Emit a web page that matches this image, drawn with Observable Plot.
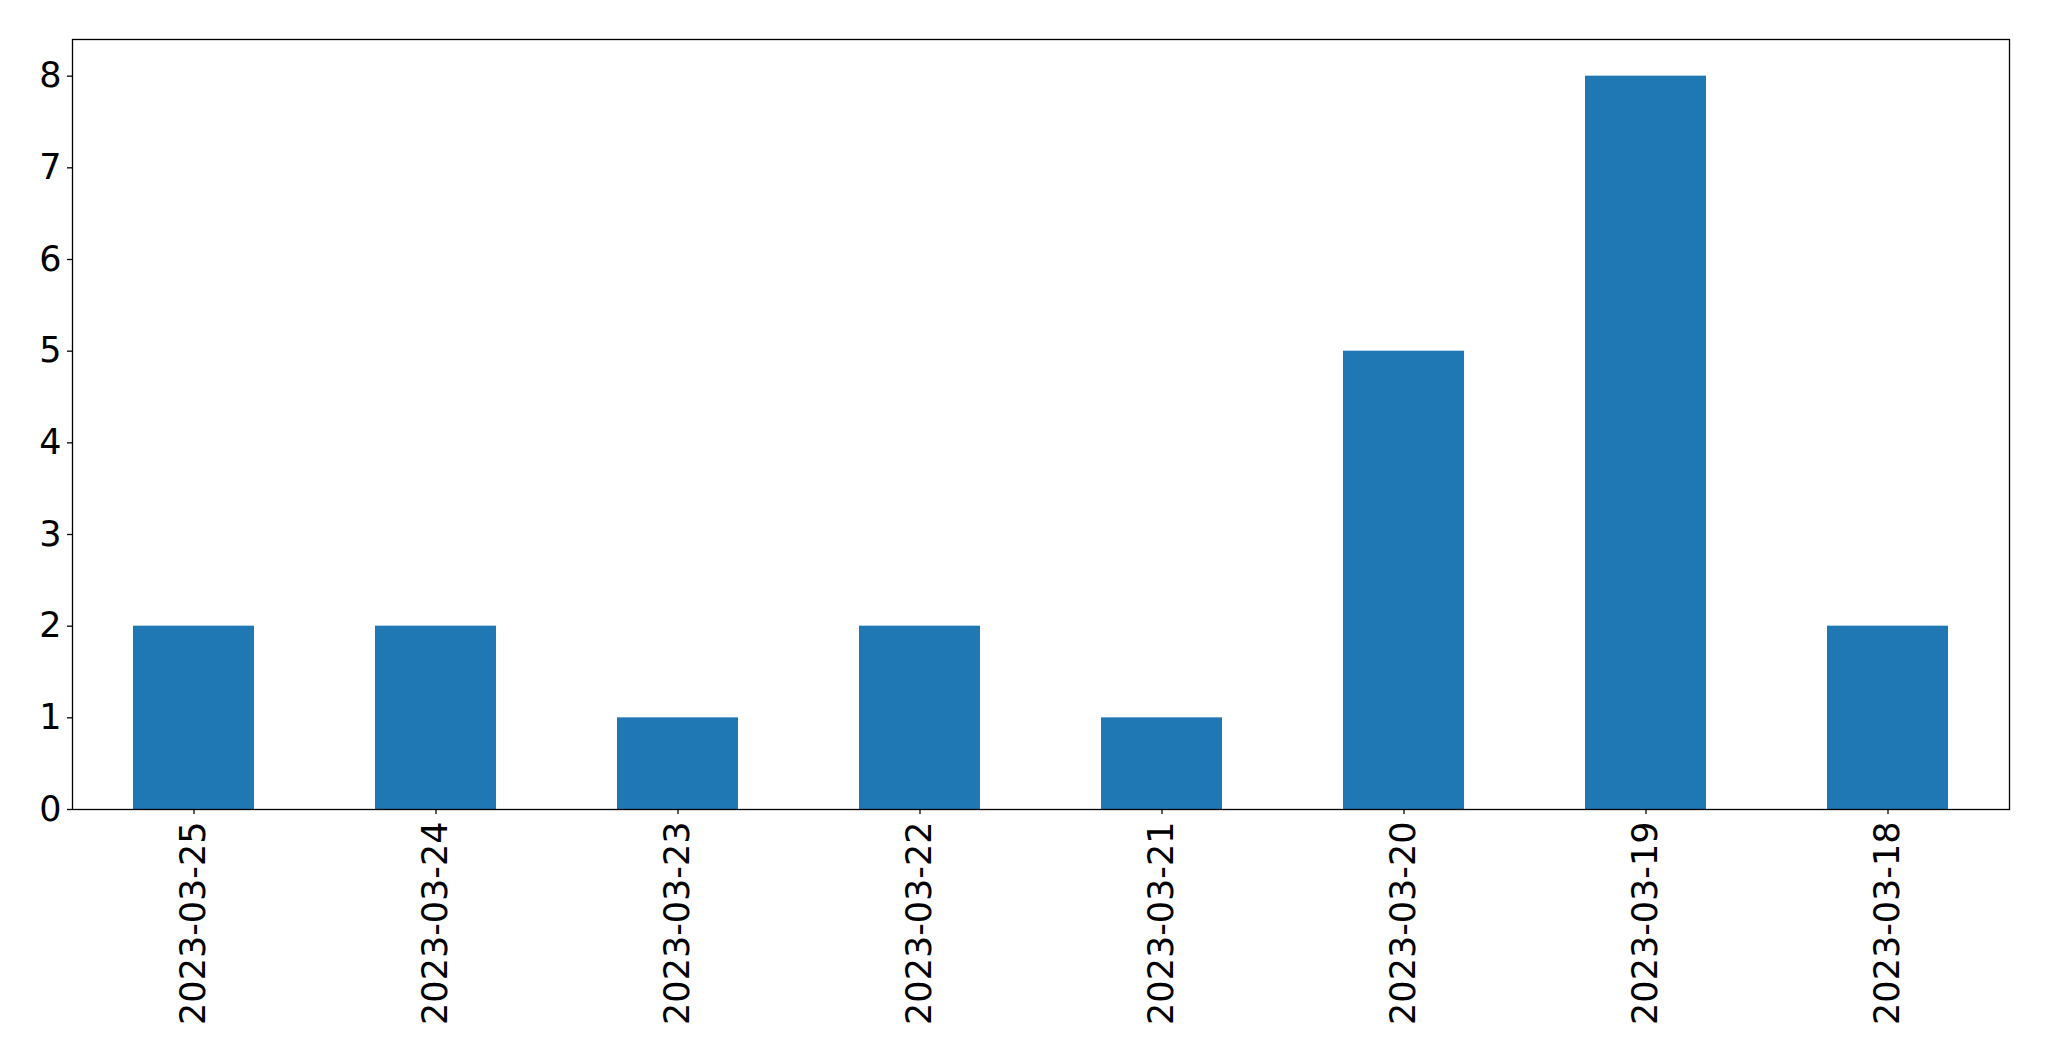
<!DOCTYPE html>
<html>
<head>
<meta charset="utf-8">
<script src="https://cdn.jsdelivr.net/npm/d3@7"></script>
<script src="https://cdn.jsdelivr.net/npm/@observablehq/plot@0.6"></script>
<style>
  html, body { margin: 0; padding: 0; background: #fff; }
  #chart svg { display: block; }
</style>
</head>
<body>
<div id="chart"></div>
<script>
const dates = ["2023-03-25","2023-03-24","2023-03-23","2023-03-22","2023-03-21","2023-03-20","2023-03-19","2023-03-18"];
const counts = [2, 2, 1, 2, 1, 5, 8, 2];
const yTicks = [0,1,2,3,4,5,6,7,8];

const data = dates.map((d, i) => ({date: d, count: counts[i]}));

const chart = Plot.plot({
  width: 2049,
  height: 1061,
  marginLeft: 72,
  marginRight: 40,
  marginTop: 39,
  marginBottom: 252,
  style: {fontFamily: "DejaVu Sans", fontSize: "35px", color: "#000", background: "#fff"},
  x: {domain: dates, paddingInner: 0.5, paddingOuter: 0.25},
  y: {domain: [0, 8.4]},
  marks: [
    Plot.barY(data, {x: "date", y: "count", fill: "#1f77b4"}),
    Plot.frame({stroke: "#000", strokeWidth: 1.3}),
    Plot.axisY({ticks: yTicks, tickSize: 5, tickPadding: 6, label: null, fontSize: 35, strokeWidth: 1.3}),
    Plot.axisX({tickSize: 5, tickPadding: 7, tickRotate: -90, label: null, fontSize: 35, strokeWidth: 1.3})
  ]
});
document.getElementById("chart").appendChild(chart);
</script>
</body>
</html>
